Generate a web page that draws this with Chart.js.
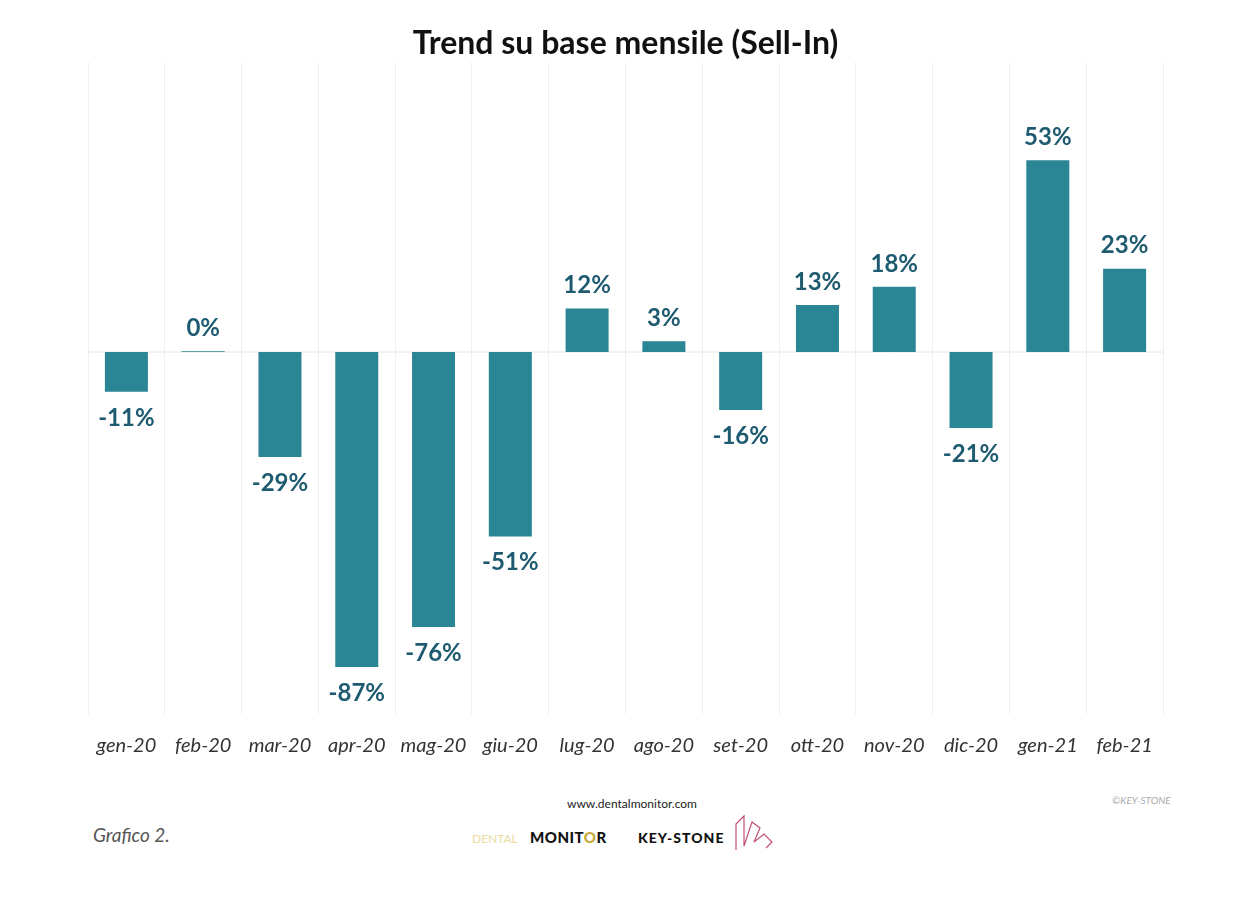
<!DOCTYPE html>
<html>
<head>
<meta charset="utf-8">
<script src="https://cdn.jsdelivr.net/npm/chart.js@4/dist/chart.umd.min.js"></script>
<style>
  body { margin: 0; background: #fff; width: 1235px; height: 900px; position: relative; overflow: hidden; font-family: Lato, "Open Sans", sans-serif; }
  #wrap { position: absolute; left: 0; top: 0; width: 1235px; height: 780px; }
  .abs { position: absolute; white-space: nowrap; }
</style>
</head>
<body>
<div id="wrap"><canvas id="chart"></canvas></div>

<div class="abs" style="left:632px; top:796px; transform:translateX(-50%); font-size:12px; color:#222;">www.dentalmonitor.com</div>
<div class="abs" style="left:1112px; top:794px; font-size:10px; font-style:italic; color:#aaa;">©KEY-STONE</div>
<div class="abs" style="left:93px; top:823px; font-size:19px; font-style:italic; color:#555;">Grafico 2.</div>
<div class="abs" style="left:472px; top:831px; font-size:12px; color:#e8dca0; letter-spacing:0px;">DENTAL</div>
<div class="abs" style="left:530px; top:828px; font-size:15px; font-weight:900; color:#111; letter-spacing:0.5px;">MONIT<span style="color:#c9a93a">O</span>R</div>
<div class="abs" style="left:638px; top:829px; font-size:14px; font-weight:900; color:#111; letter-spacing:1px;">KEY-STONE</div>
<svg class="abs" style="left:730px; top:812px;" width="52" height="40" viewBox="0 0 52 40">
  <polyline points="6,38 6,12 14,4 14,34 22,10 30,16 24,30 34,22 42,30 36,36" fill="none" stroke="#c0507a" stroke-width="1.2"/>
</svg>

<script>
const categories = ["gen-20", "feb-20", "mar-20", "apr-20", "mag-20", "giu-20", "lug-20", "ago-20", "set-20", "ott-20", "nov-20", "dic-20", "gen-21", "feb-21"];
const trendValues = [-11, 0.2, -29, -87, -76, -51, 12, 3, -16, 13, 18, -21, 53, 23];

const barColor = "#2a8595";
const labelColor = "#1e5b70";

const zeroLine = {
  id: "zeroLine",
  beforeDatasetsDraw(chart) {
    const { ctx, chartArea } = chart;
    const y = chart.scales.y.getPixelForValue(0);
    ctx.save();
    ctx.strokeStyle = "#e4e4e4";
    ctx.lineWidth = 1;
    ctx.beginPath();
    ctx.moveTo(chartArea.left, y);
    ctx.lineTo(chartArea.right, y);
    ctx.stroke();
    ctx.restore();
  }
};

const valueLabels = {
  id: "valueLabels",
  afterDatasetsDraw(chart) {
    const ctx = chart.ctx;
    const meta = chart.getDatasetMeta(0);
    ctx.save();
    ctx.font = "bold 24px Lato, 'Open Sans', sans-serif";
    ctx.fillStyle = labelColor;
    ctx.textAlign = "center";
    ctx.textBaseline = "middle";
    meta.data.forEach((bar, i) => {
      const v = trendValues[i];
      const y = v >= 0 ? bar.y - 23 : bar.y + 26;
      ctx.fillText(Math.round(v) + "%", bar.x, y);
    });
    ctx.restore();
  }
};

new Chart(document.getElementById("chart"), {
  type: "bar",
  data: {
    labels: categories,
    datasets: [{
      data: trendValues,
      backgroundColor: barColor,
      barPercentage: 0.56,
      categoryPercentage: 1
    }]
  },
  options: {
    responsive: true,
    maintainAspectRatio: false,
    animation: false,
    layout: { padding: { left: 88, right: 72, bottom: 2 } },
    plugins: {
      legend: { display: false },
      tooltip: { enabled: false },
      title: {
        display: true,
        text: "Trend su base mensile (Sell-In)",
        color: "#111",
        font: { family: "Lato, 'Open Sans', sans-serif", size: 32, weight: "bold" },
        padding: { top: 24, bottom: 0 }
      }
    },
    scales: {
      x: {
        grid: { color: "#efefef", drawTicks: false },
        border: { display: false },
        ticks: {
          color: "#333",
          padding: 20,
          font: { family: "Lato, 'Open Sans', sans-serif", size: 20, style: "italic" }
        }
      },
      y: {
        display: false,
        min: -100,
        max: 80
      }
    }
  },
  plugins: [zeroLine, valueLabels]
});
</script>
</body>
</html>
